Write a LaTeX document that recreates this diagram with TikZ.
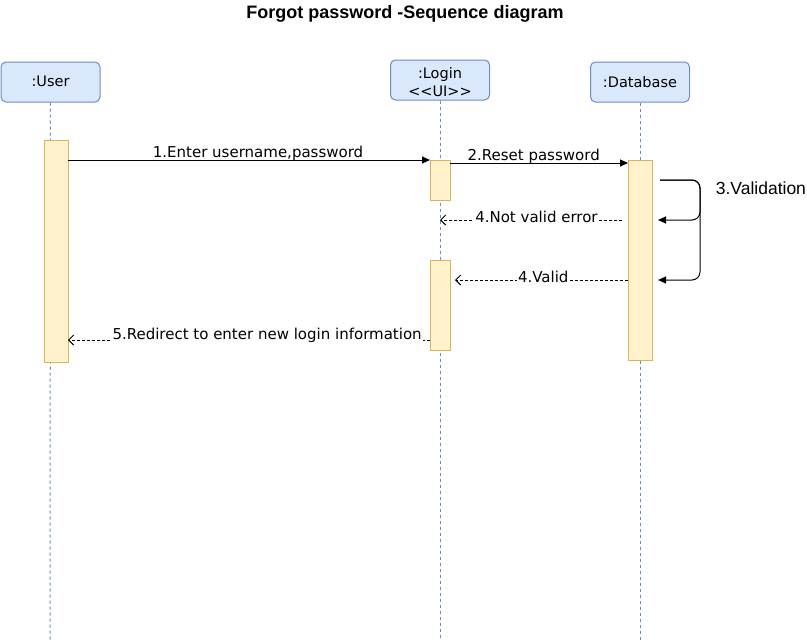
\documentclass[tikz,border=0pt]{standalone}
\usepackage{fontspec}
\setmainfont{DejaVu Sans}
\newfontfamily\titlefont{Liberation Sans}
\usetikzlibrary{positioning,arrows.meta}

\definecolor{boxfill}{HTML}{DAE8FC}
\definecolor{boxline}{HTML}{6C8EBF}
\definecolor{actfill}{HTML}{FFF2CC}
\definecolor{actline}{HTML}{D6B656}

\tikzset{
  object/.style={draw=boxline,fill=boxfill,rounded corners=5pt,minimum width=99pt,minimum height=40pt,font=\fontsize{14.5}{18}\selectfont,align=center,inner sep=1pt},
  lifeline/.style={draw=boxline,dash pattern=on 3pt off 3pt},
  activation/.style={draw=actline,fill=actfill},
  call/.style={-{Triangle[length=8pt,width=7pt]}},
  reply/.style={dash pattern=on 3pt off 2pt,-{Straight Barb[length=5pt,width=10pt]}},
  msg/.style={fill=white,inner sep=1pt,font=\fontsize{15}{17}\selectfont}
}

\begin{document}
\begin{tikzpicture}[x=1pt,y=-1pt,line width=1pt]
\useasboundingbox (0,0) rectangle (807,643);

%---------------------Title------------------%
\node[font=\titlefont\bfseries\fontsize{18}{20}\selectfont] (title) at (405,14) {Forgot password -Sequence diagram};

%---------------------Objects------------------%
\node[object,text height=8pt,text depth=0pt] (user) at (50.5,82) {:User};
\node[object,text depth=0pt] (login) at (440,80) {\raisebox{-4pt}{:Login}\\\raisebox{-4pt}{<{}<UI>{}>}};
\node[object] (db) at (640,82) {:Database};

%---------------------Lifelines------------------%
\coordinate (userEnd) at (50,640);
\coordinate (loginEnd) at (440,640);
\coordinate (dbEnd) at (640,640);
\draw[lifeline] (user.south) -- (userEnd);
\draw[lifeline] (login.south) -- (loginEnd);
\draw[lifeline] (db.south) -- (dbEnd);

%---------------------Activations------------------%
\draw[activation] (44,140) rectangle (68,362);
\draw[activation] (430,160) rectangle (450,200);
\draw[activation] (430,260) rectangle (450,350);
\draw[activation] (628,160) rectangle (652,360);

%---------------------Messages------------------%
\coordinate (m1a) at (68,160);   \coordinate (m1b) at (430,160);
\coordinate (m2a) at (450,163);  \coordinate (m2b) at (628,163);
\coordinate (m4a) at (622,220);  \coordinate (m4b) at (440,220);
\coordinate (m4c) at (628,280);  \coordinate (m4d) at (455,280);
\coordinate (m5a) at (430,340);  \coordinate (m5b) at (68,340);

\draw[call] (m1a) -- (m1b) node[msg,fill=none,pos=0.525,above,yshift=-2pt] {1.Enter username,password};
\draw[call] (m2a) -- (m2b) node[msg,fill=none,pos=0.47,above,yshift=-2pt] {2.Reset password};
\draw[reply] (m4a) -- (m4b) node[msg,pos=0.47,above,yshift=-4pt] {4.Not valid error};
\draw[reply] (m4c) -- (m4d) node[msg,pos=0.49,above,yshift=-4pt] {4.Valid};
\draw[reply] (m5a) -- (m5b) node[msg,pos=0.45,above,yshift=-4pt] {5.Redirect to enter new login information};

%---------------------Self call------------------%
\coordinate (s0) at (660,180);
\coordinate (s1) at (700,180);
\coordinate (s2) at (700,220);
\coordinate (s3) at (658,220);
\coordinate (s4) at (700,280);
\coordinate (s5) at (658,280);
\draw[call,rounded corners=8pt] (s0) -- (s1) -- (s2) -- (s3);
\draw[call,rounded corners=8pt] (s0) -- (s1) -- (s4) -- (s5);
\node[font=\titlefont\fontsize{17.5}{20}\selectfont,anchor=west] (valid) at (712,188) {3.Validation};
\end{tikzpicture}
\end{document}
